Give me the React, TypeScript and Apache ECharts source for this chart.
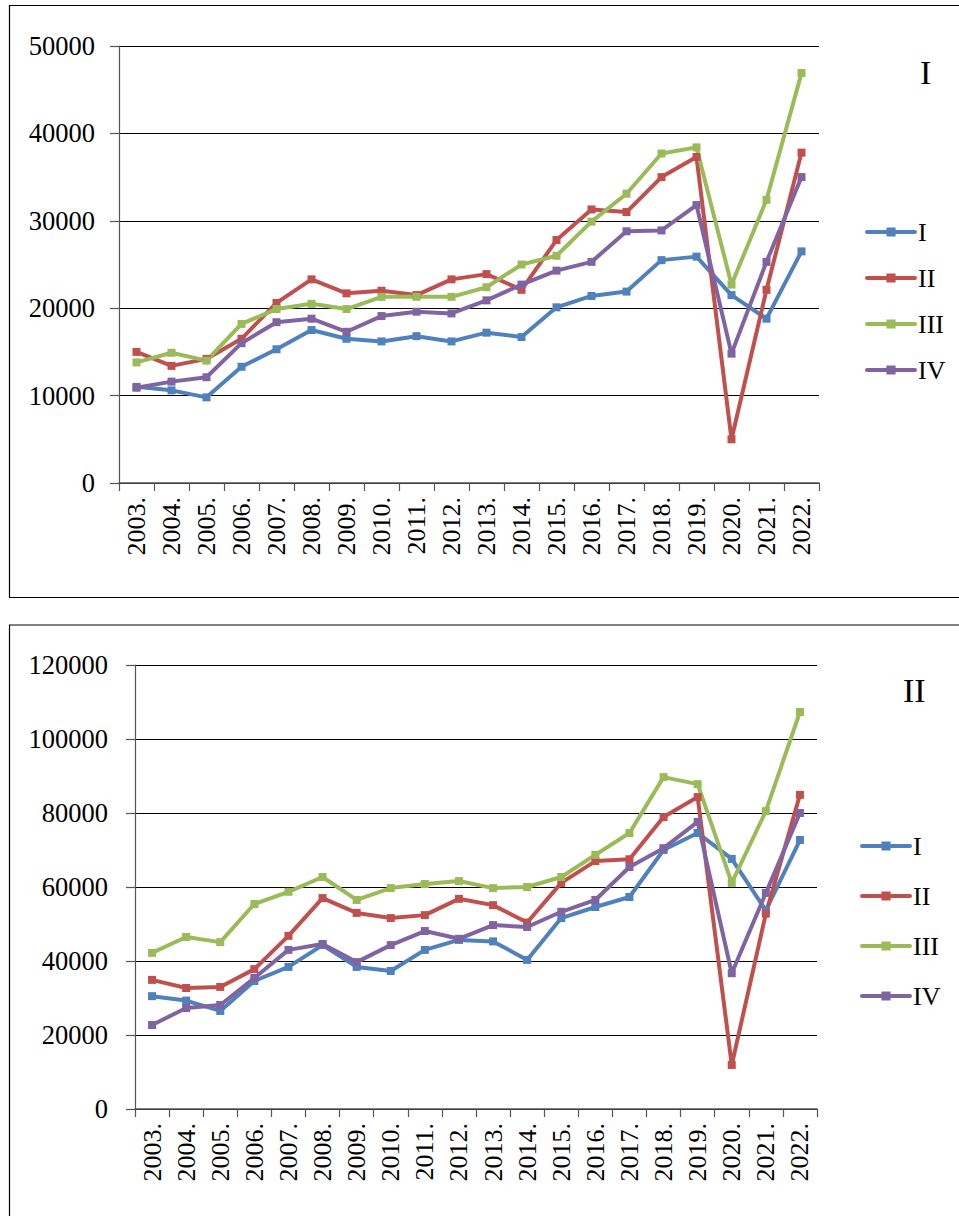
import React, { useEffect, useRef } from "react";
import * as echarts from "echarts";

const years = ["2003.", "2004.", "2005.", "2006.", "2007.", "2008.", "2009.", "2010.", "2011.", "2012.", "2013.", "2014.", "2015.", "2016.", "2017.", "2018.", "2019.", "2020.", "2021.", "2022."];
const seriesNames = ["I", "II", "III", "IV"];
const colors = ["#4F81BD", "#C0504D", "#9BBB59", "#8064A2"];

// Chart I
const c1_I = [11000, 10600, 9800, 13300, 15300, 17500, 16500, 16200, 16800, 16200, 17200, 16700, 20100, 21400, 21900, 25500, 25900, 21500, 18800, 26500];
const c1_II = [15000, 13400, 14200, 16500, 20600, 23300, 21700, 22000, 21500, 23300, 23900, 22100, 27800, 31300, 31000, 35000, 37300, 5000, 22100, 37800];
const c1_III = [13800, 14900, 14000, 18200, 19900, 20500, 19900, 21300, 21300, 21300, 22400, 25000, 26000, 29900, 33100, 37700, 38400, 22700, 32400, 46900];
const c1_IV = [10900, 11600, 12100, 16000, 18400, 18800, 17300, 19100, 19600, 19400, 20900, 22700, 24300, 25300, 28800, 28900, 31800, 14800, 25300, 35000];

// Chart II
const c2_I = [30500, 29300, 26500, 34600, 38400, 44300, 38400, 37300, 43000, 45700, 45300, 40300, 51600, 54600, 57300, 70000, 74600, 67600, 53700, 72700];
const c2_II = [34900, 32700, 33000, 37800, 46800, 57000, 53000, 51600, 52400, 56800, 55100, 50400, 61100, 67000, 67500, 78900, 84300, 11900, 52800, 84900];
const c2_III = [42200, 46500, 45100, 55400, 58700, 62700, 56500, 59700, 60800, 61600, 59700, 60000, 62700, 68700, 74600, 89700, 87800, 61100, 80500, 107300];
const c2_IV = [22700, 27300, 28100, 35400, 43000, 44600, 39700, 44300, 48100, 46000, 49700, 49200, 53300, 56500, 65400, 70500, 77600, 36700, 58400, 80000];

const chart1Data = [c1_I, c1_II, c1_III, c1_IV];
const chart2Data = [c2_I, c2_II, c2_III, c2_IV];

const FONT = "Liberation Serif";
const LEGEND_ICON =
  "path://M2.5,5 L49.5,5 A2,2 0 0 1 49.5,9 L2.5,9 A2,2 0 0 1 2.5,5 Z M21.5,2.5 L30.5,2.5 L30.5,11.5 L21.5,11.5 Z";

export default function App() {
  const ref = useRef<HTMLDivElement>(null);
  useEffect(() => {
    if (!ref.current) return;
    const chart = echarts.init(ref.current, null, { renderer: "svg" });

    const yAxisBase = (idx: number, max: number, interval: number, margin: number) => ({
      type: "value",
      gridIndex: idx,
      min: 0,
      max,
      interval,
      axisLine: { show: true, lineStyle: { color: "#555", width: 1.2 } },
      axisTick: { show: true, length: 9, lineStyle: { color: "#555", width: 1.2 } },
      axisLabel: { color: "#000", fontFamily: FONT, fontSize: 26.5, margin, formatter: (v: number) => String(v) },
      splitLine: { show: true, lineStyle: { color: "#000", width: 1.2 } },
    });
    const xAxisBase = (idx: number) => ({
      type: "category",
      gridIndex: idx,
      data: years,
      boundaryGap: true,
      axisLine: { show: true, lineStyle: { color: "#555", width: 1.5 } },
      axisTick: { show: true, length: 8, interval: 0, lineStyle: { color: "#555", width: 1.2 } },
      axisLabel: { color: "#000", fontFamily: FONT, fontSize: 26, rotate: 90, interval: 0, margin: 14 },
      splitLine: { show: false },
    });

    const mkSeries = (data: number[][], idx: number) =>
      data.map((d, i) => ({
        name: seriesNames[i],
        type: "line",
        xAxisIndex: idx,
        yAxisIndex: idx,
        data: d,
        symbol: "rect",
        symbolSize: 8,
        showSymbol: true,
        lineStyle: { color: colors[i], width: 4 },
        itemStyle: { color: colors[i] },
      }));

    const legendBase = (left: number, top: number, gap: number) => ({
      orient: "vertical",
      left,
      top,
      itemWidth: 52,
      itemHeight: 14,
      itemGap: gap,
      icon: LEGEND_ICON,
      data: seriesNames,
      textStyle: { color: "#000", fontFamily: FONT, fontSize: 26, padding: [0, 0, 0, -4] },
    });

    chart.setOption({
      animation: false,
      backgroundColor: "#fff",
      color: colors,
      title: [
        { text: "I", left: 915, top: 50, textStyle: { fontFamily: FONT, fontSize: 34, fontWeight: "normal", color: "#000" } },
        { text: "II", left: 898, top: 668, textStyle: { fontFamily: FONT, fontSize: 34, fontWeight: "normal", color: "#000" } },
      ],
      legend: [legendBase(860, 214, 20), legendBase(855, 828, 24)],
      grid: [
        { left: 119, top: 46, width: 700, height: 437, containLabel: false },
        { left: 135, top: 665, width: 682, height: 444, containLabel: false },
      ],
      xAxis: [xAxisBase(0), xAxisBase(1)],
      yAxis: [yAxisBase(0, 50000, 10000, 24), yAxisBase(1, 120000, 20000, 27)],
      series: [...mkSeries(chart1Data, 0), ...mkSeries(chart2Data, 1)],
      graphic: [
        { type: "rect", shape: { x: 9.5, y: 5.5, width: 960, height: 592 }, style: { fill: "none", stroke: "#000", lineWidth: 1.2 }, silent: true },
        { type: "rect", shape: { x: 9.5, y: 625, width: 960, height: 700 }, style: { fill: "none", stroke: "#000", lineWidth: 1.2 }, silent: true },
      ],
    });
    return () => chart.dispose();
  }, []);
  return (
    <div style={{ position: "absolute", left: 0, top: 0, width: 959, height: 1216, background: "#fff" }}>
      <div ref={ref} style={{ width: 959, height: 1216 }} />
    </div>
  );
}
